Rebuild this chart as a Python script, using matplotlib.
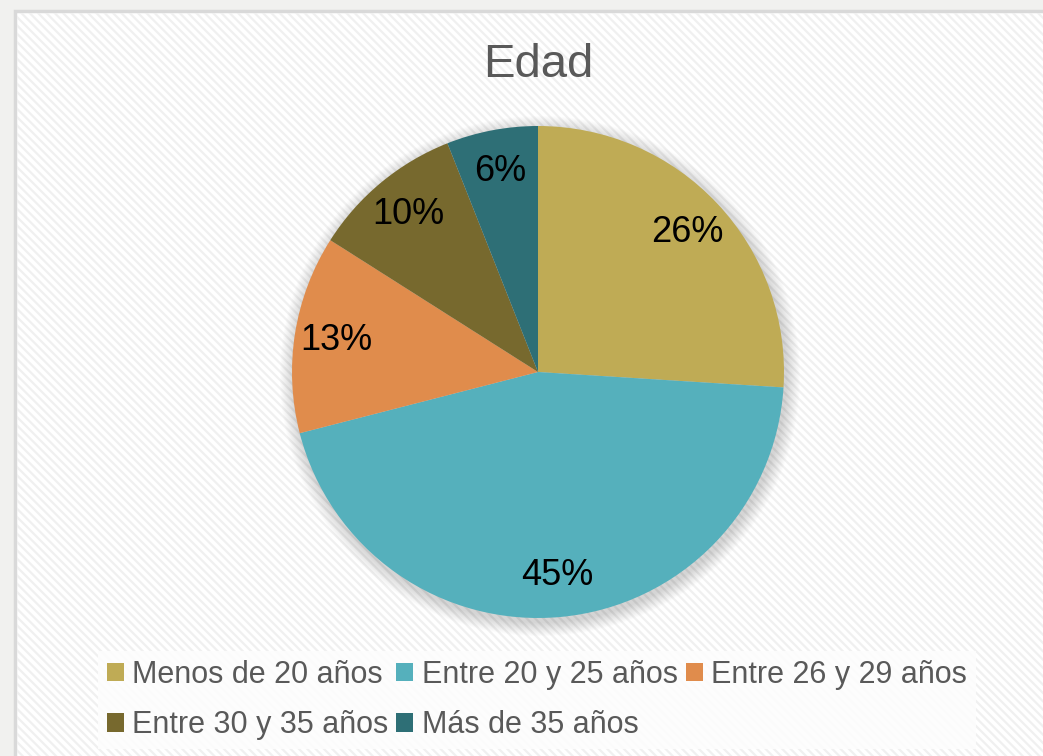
import matplotlib
matplotlib.use("Agg")
import matplotlib.pyplot as plt
from matplotlib.patches import Rectangle, Circle

plt.rcParams['font.family'] = ['Liberation Sans', 'DejaVu Sans']
plt.rcParams['hatch.linewidth'] = 1.6

title = "Edad"
categories = ["Menos de 20 años", "Entre 20 y 25 años", "Entre 26 y 29 años",
              "Entre 30 y 35 años", "Más de 35 años"]
values = [26, 45, 13, 10, 6]
colors = ["#BFAB55", "#55B0BC", "#E08C4C", "#77692E", "#2E6F76"]

W, H = 1043, 756
fig = plt.figure(figsize=(W / 100, H / 100), dpi=100)
fig.patch.set_facecolor('#F1F1EF')
ax = fig.add_axes([0, 0, 1, 1])
ax.set_xlim(0, W)
ax.set_ylim(0, H)
ax.set_aspect('equal')
ax.axis('off')

# chart area with diagonal stripes
ax.add_patch(Rectangle((15, -20), W + 20, H - 11 + 20, facecolor='white',
                       edgecolor='#D9D9D9', linewidth=2.5, zorder=0))
ax.add_patch(Rectangle((17, -20), W + 20, H - 13 + 20, facecolor='none',
                       edgecolor='#F0F0F0', linewidth=0, hatch='\\\\\\\\',
                       zorder=0.5))

cx, cy, r = 538, H - 372, 246

# soft shadow
for k in range(14, 0, -1):
    ax.add_patch(Circle((cx + 2, cy - 4), r + k, facecolor='black',
                        edgecolor='none', alpha=0.012, zorder=1))

wedges, texts, autotexts = ax.pie(
    values, colors=colors, startangle=90, counterclock=False,
    center=(cx, cy), radius=r, autopct='%1.0f%%', pctdistance=0.83,
    textprops=dict(fontsize=26, color='black'),
    wedgeprops=dict(linewidth=0, zorder=2), frame=True)
for t in autotexts:
    t.set_zorder(3)
ax.set_xlim(0, W)
ax.set_ylim(0, H)
ax.axis('off')

ax.text(538, H - 65, title, fontsize=34, color='#595959',
        ha='center', va='center', zorder=3)

order = [0, 3, 1, 4, 2]
leg = ax.legend([wedges[i] for i in order], [categories[i] for i in order],
                ncol=3, loc='center', bbox_to_anchor=(537 / W, (H - 700) / H),
                bbox_transform=fig.transFigure, fontsize=22, frameon=True,
                handlelength=0.56, handleheight=0.56, handletextpad=0.28,
                columnspacing=0.25, labelspacing=0.66, borderpad=0.3,
                fancybox=False)
leg.get_frame().set_facecolor('#FDFDFD')
leg.get_frame().set_edgecolor('none')
leg.get_frame().set_alpha(0.9)
for t in leg.get_texts():
    t.set_color('#595959')

fig.savefig('out.png', dpi=100, facecolor=fig.get_facecolor())
